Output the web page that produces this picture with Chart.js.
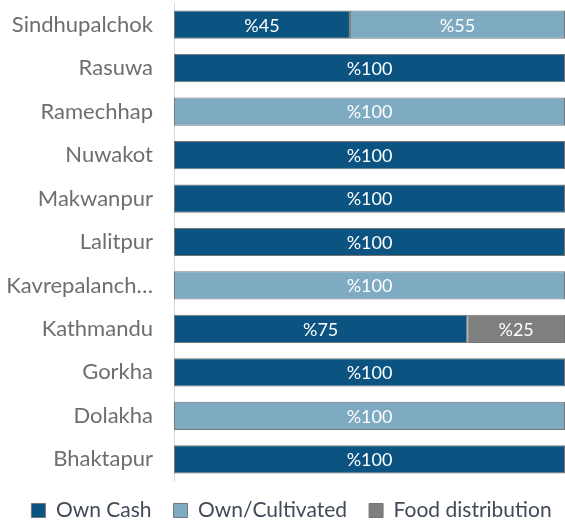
<!DOCTYPE html>
<html>
<head>
<meta charset="utf-8">
<script src="https://cdn.jsdelivr.net/npm/chart.js@4"></script>
<style>
  html, body { margin: 0; padding: 0; background: #fff; }
  #wrap { width: 565px; height: 521px; }
</style>
</head>
<body>
<div id="wrap"><canvas id="foodChart" width="565" height="521"></canvas></div>
<script>
const districts = ['Sindhupalchok', 'Rasuwa', 'Ramechhap', 'Nuwakot', 'Makwanpur', 'Lalitpur',
    'Kavrepalanch…', 'Kathmandu', 'Gorkha', 'Dolakha', 'Bhaktapur'];
const ownCash = [45, 100, 0, 100, 100, 100, 0, 75, 100, 0, 100];
const ownCultivated = [55, 0, 100, 0, 0, 0, 100, 0, 0, 100, 0];
const foodDistribution = [0, 0, 0, 0, 0, 0, 0, 25, 0, 0, 0];

const FONT = "Lato, 'Open Sans', sans-serif";
const LEGEND_PAD = 22;

// write "%NN" in the middle of each non-empty segment
const barLabels = {
    id: 'barLabels',
    afterDatasetsDraw(chart) {
        const ctx = chart.ctx;
        ctx.save();
        ctx.fillStyle = '#ffffff';
        ctx.font = '18px ' + FONT;
        ctx.textAlign = 'center';
        ctx.textBaseline = 'middle';
        chart.data.datasets.forEach((ds, i) => {
            chart.getDatasetMeta(i).data.forEach((bar, j) => {
                const v = ds.data[j];
                if (!v) return;
                const x = (bar.x + bar.base) / 2;
                ctx.fillText('%' + v, x, bar.y + 1);
            });
        });
        ctx.restore();
    }
};

// keep the legend short in height, but wide spacing between items
const legendFix = {
    id: 'legendFix',
    beforeLayout(chart) {
        const lg = chart.legend;
        if (lg && !lg._fitPatched) {
            const fit = lg.fit;
            lg.fit = function () { fit.call(this); this.height = 40; };
            lg._fitPatched = true;
        }
    },
    afterLayout(chart) {
        // legend text centre at about y = 511, nudged a bit right
        const lg = chart.legend;
        lg.top = 511 - LEGEND_PAD - 11;
        lg.bottom = lg.top + 40;
        lg.left += 9;
        lg.right += 9;
    }
};

new Chart(document.getElementById('foodChart').getContext('2d'), {
    type: 'bar',
    data: {
        labels: districts,
        datasets: [
            { label: 'Own Cash', data: ownCash, backgroundColor: '#0b5381' },
            { label: 'Own/Cultivated', data: ownCultivated, backgroundColor: '#7eaac2' },
            { label: 'Food distribution', data: foodDistribution, backgroundColor: '#7f7f7f' }
        ].map(d => Object.assign(d, {
            borderColor: '#767676',
            borderWidth: 1,
            borderSkipped: false,
            categoryPercentage: 0.65,
            barPercentage: 1
        }))
    },
    options: {
        indexAxis: 'y',
        responsive: false,
        animation: false,
        layout: { padding: { top: 3, right: 0, left: 0, bottom: 0 } },
        scales: {
            x: {
                stacked: true,
                min: 0,
                max: 100,
                display: false
            },
            y: {
                stacked: true,
                grid: { display: false },
                border: { color: '#d9d9d9', width: 1 },
                ticks: {
                    color: '#6e6e6e',
                    font: { family: FONT, size: 22 },
                    padding: 13
                },
                afterFit(scale) {
                    scale.paddingTop = 0;
                    scale.paddingBottom = 0;
                    scale.width = 174;
                }
            }
        },
        plugins: {
            legend: {
                position: 'bottom',
                labels: {
                    color: '#404a58',
                    font: { family: FONT, size: 21 },
                    boxWidth: 14,
                    boxHeight: 14,
                    padding: LEGEND_PAD
                }
            },
            tooltip: { enabled: false }
        }
    },
    plugins: [barLabels, legendFix]
});
</script>
</body>
</html>
